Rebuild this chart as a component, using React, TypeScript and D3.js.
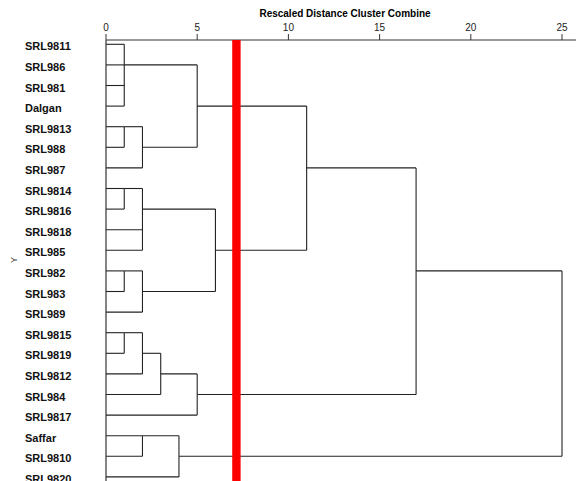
import * as d3 from "d3";
import { useMemo } from "react";

// leaves top to bottom
const labels = [
  "SRL9811", "SRL986", "SRL981", "Dalgan", "SRL9813", "SRL988", "SRL987",
  "SRL9814", "SRL9816", "SRL9818", "SRL985", "SRL982", "SRL983", "SRL989",
  "SRL9815", "SRL9819", "SRL9812", "SRL984", "SRL9817", "Saffar", "SRL9810", "SRL9820",
];

// agglomeration schedule: merged cluster ids start at labels.length
const mergeChildren = [
  [0, 1, 2, 3], [4, 5], [23, 6], [22, 24],
  [7, 8], [26, 9, 10], [11, 12], [28, 13], [27, 29], [25, 30],
  [14, 15], [32, 16], [33, 17], [34, 18], [31, 35],
  [19, 20], [37, 21], [36, 38],
];
const mergeHeights = [1, 1, 2, 5, 1, 2, 1, 2, 6, 11, 1, 2, 3, 5, 17, 2, 4, 25];

const axisTicks = [0, 5, 10, 15, 20, 25];
const cutHeight = 7.15;

const W = 576, H = 481;

type Node = { id: number; h: number; children?: Node[] };

const App = () => {
  const x = d3.scaleLinear().domain([0, 25]).range([106, 562]);
  const y = d3.scaleLinear().domain([0, labels.length - 1]).range([44.3, 476.9]);

  const segs = useMemo(() => {
    const n = labels.length;
    const build = (id: number): Node =>
      id < n ? { id, h: 0 } : { id, h: mergeHeights[id - n], children: mergeChildren[id - n].map(build) };
    const root = d3.hierarchy<Node>(build(n + mergeChildren.length - 1));
    const row = new Map<any, number>();
    root.eachAfter((d) => {
      if (!d.children) row.set(d, d.data.id);
      else {
        const rs = d.children.map((c) => row.get(c)!);
        row.set(d, Math.floor((d3.min(rs)! + d3.max(rs)!) / 2));
      }
    });
    const out: { x1: number; y1: number; x2: number; y2: number }[] = [];
    root.each((d) => {
      if (d.parent) {
        const r = row.get(d)!;
        out.push({ x1: x(d.data.h), y1: y(r), x2: x(d.parent.data.h), y2: y(r) });
      }
      if (d.children) {
        const rs = d.children.map((c) => row.get(c)!);
        out.push({ x1: x(d.data.h), y1: y(d3.min(rs)!), x2: x(d.data.h), y2: y(d3.max(rs)!) });
      }
    });
    return out;
  }, []);

  return (
    <svg width={W} height={H} style={{ position: "absolute", left: 0, top: 0, background: "#fff" }}
      fontFamily="Liberation Sans, Arial, sans-serif">
      <text x={345} y={17} fontSize={10} fontWeight="bold" textAnchor="middle">Rescaled Distance Cluster Combine</text>
      <line x1={106} x2={W} y1={40} y2={40} stroke="#333" strokeWidth={1.2} />
      {axisTicks.map((t) => (
        <g key={t}>
          <line x1={x(t)} x2={x(t)} y1={34} y2={40} stroke="#333" />
          <text x={x(t)} y={31} fontSize={10} textAnchor="middle" fill="#222">{t}</text>
        </g>
      ))}
      <line x1={106} x2={106} y1={40} y2={H} stroke="#333" strokeWidth={1.2} />
      {segs.map((s, i) => (
        <line key={i} x1={s.x1} y1={s.y1} x2={s.x2} y2={s.y2} stroke="#222" strokeWidth={1.1} />
      ))}
      {labels.map((l, i) => (
        <text key={l} x={25} y={y(i) + 6} fontSize={11} fontWeight="bold" fill="#111">{l}</text>
      ))}
      <text transform="translate(17,260) rotate(-90)" fontSize={9} fill="#444" textAnchor="middle">Y</text>
      <rect x={x(cutHeight) - 4.2} y={40} width={8.4} height={H - 40} fill="#ff0000" />
    </svg>
  );
};

export default App;
